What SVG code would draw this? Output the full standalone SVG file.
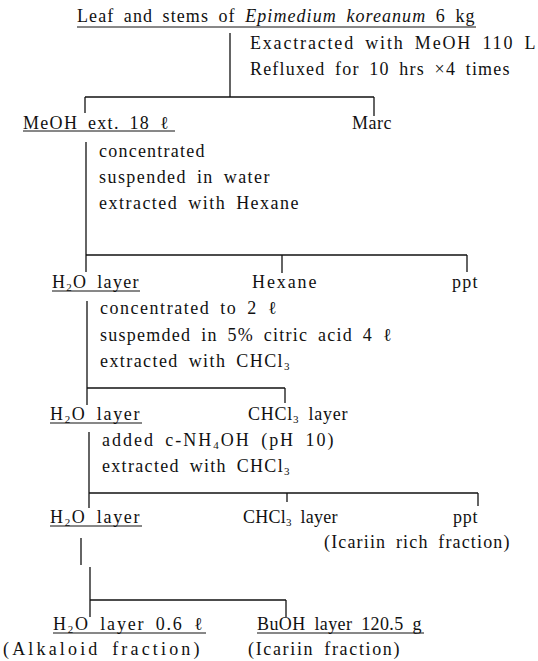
<svg xmlns="http://www.w3.org/2000/svg" width="538" height="661" viewBox="0 0 538 661">
<style>
text{font-family:"Liberation Serif","DejaVu Serif",serif;font-size:18px;fill:#111;letter-spacing:0.5px;word-spacing:4px}
.it{font-style:italic}
.sub{font-size:11px}
line{stroke:#111;stroke-width:1.3;fill:none}
.ul{stroke-width:1}
</style>
<rect width="538" height="661" fill="#fff"/>
<g id="connectors">
<line x1="230" y1="33" x2="230" y2="97"/>
<line x1="85" y1="97" x2="374" y2="97"/>
<line x1="85" y1="97" x2="85" y2="113"/>
<line x1="374" y1="97" x2="374" y2="116"/>
<line x1="86" y1="142" x2="86" y2="255"/>
<line x1="86" y1="255" x2="467" y2="255"/>
<line x1="86" y1="255" x2="86" y2="272"/>
<line x1="282" y1="255" x2="282" y2="273"/>
<line x1="467" y1="255" x2="467" y2="272"/>
<line x1="87" y1="301" x2="87" y2="388"/>
<line x1="87" y1="388" x2="285" y2="388"/>
<line x1="87" y1="388" x2="87" y2="405"/>
<line x1="285" y1="388" x2="285" y2="403"/>
<line x1="89" y1="432" x2="89" y2="493"/>
<line x1="89" y1="493" x2="478" y2="493"/>
<line x1="89" y1="493" x2="89" y2="508"/>
<line x1="287" y1="493" x2="287" y2="502"/>
<line x1="478" y1="493" x2="478" y2="506"/>
<line x1="81" y1="538" x2="81" y2="565"/>
<line x1="90" y1="567" x2="90" y2="617"/>
<line x1="90" y1="600" x2="286" y2="600"/>
<line x1="286" y1="600" x2="286" y2="617"/>
</g>
<g id="n-start">
<text x="77" y="22" textLength="398">Leaf and stems of <tspan class="it">Epimedium koreanum</tspan> 6 kg</text>
<line class="ul" x1="77" y1="27" x2="476" y2="27"/>
</g>
<g id="step1">
<text x="250" y="49" textLength="286">Exactracted with MeOH 110 L</text>
<text x="250" y="75" textLength="260">Refluxed for 10 hrs ×4 times</text>
</g>
<g id="n-meoh">
<text x="23" y="129" textLength="146">MeOH ext. 18 ℓ</text>
<line class="ul" x1="23" y1="131" x2="175" y2="131"/>
</g>
<g id="n-marc"><text x="352" y="129">Marc</text></g>
<g id="step2">
<text x="99" y="157" textLength="106">concentrated</text>
<text x="99" y="183" textLength="171">suspended in water</text>
<text x="99" y="209" textLength="200">extracted with Hexane</text>
</g>
<g id="n-h2o1">
<text x="52" y="288" textLength="87">H<tspan class="sub" dy="3">2</tspan><tspan dy="-3">O layer</tspan></text>
<line class="ul" x1="52" y1="291" x2="140" y2="291"/>
</g>
<g id="n-hexane"><text x="252" y="288" textLength="65">Hexane</text></g>
<g id="n-ppt1"><text x="452" y="288" textLength="26">ppt</text></g>
<g id="step3">
<text x="100" y="314" textLength="177">concentrated to 2 ℓ</text>
<text x="100" y="341" textLength="292">suspemded in 5% citric acid 4 ℓ</text>
<text x="100" y="367" textLength="190">extracted with CHCl<tspan class="sub" dy="3">3</tspan></text>
</g>
<g id="n-h2o2">
<text x="50" y="420" textLength="90">H<tspan class="sub" dy="3">2</tspan><tspan dy="-3">O layer</tspan></text>
<line class="ul" x1="50" y1="423" x2="142" y2="423"/>
</g>
<g id="n-chcl3a"><text x="248" y="420" textLength="100">CHCl<tspan class="sub" dy="3">3</tspan><tspan dy="-3"> layer</tspan></text></g>
<g id="step4">
<text x="102" y="446" textLength="232">added c-NH<tspan class="sub" dy="3">4</tspan><tspan dy="-3">OH (pH 10)</tspan></text>
<text x="102" y="472" textLength="188">extracted with CHCl<tspan class="sub" dy="3">3</tspan></text>
</g>
<g id="n-h2o3">
<text x="50" y="523" textLength="90">H<tspan class="sub" dy="3">2</tspan><tspan dy="-3">O layer</tspan></text>
<line class="ul" x1="50" y1="526" x2="142" y2="526"/>
</g>
<g id="n-chcl3b"><text x="243" y="523" textLength="95">CHCl<tspan class="sub" dy="3">3</tspan><tspan dy="-3"> layer</tspan></text></g>
<g id="n-ppt2">
<text x="453" y="523" textLength="25">ppt</text>
<text x="324" y="548" textLength="186">(Icariin rich fraction)</text>
</g>
<g id="n-h2o4">
<text x="53" y="630" textLength="150">H<tspan class="sub" dy="3">2</tspan><tspan dy="-3">O layer 0.6 ℓ</tspan></text>
<line class="ul" x1="53" y1="633" x2="206" y2="633"/>
<text x="3" y="655" textLength="197">(Alkaloid fraction)</text>
</g>
<g id="n-buoh">
<text x="257" y="630" textLength="165">BuOH layer 120.5 g</text>
<line class="ul" x1="257" y1="633" x2="424" y2="633"/>
<text x="248" y="655" textLength="152">(Icariin fraction)</text>
</g>
</svg>
